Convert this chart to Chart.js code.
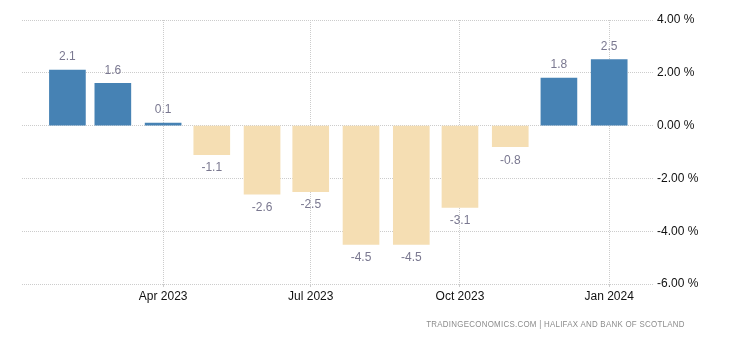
<!DOCTYPE html>
<html>
<head>
<meta charset="utf-8">
<script src="https://cdn.jsdelivr.net/npm/chart.js@4"></script>
<style>
  html, body { margin: 0; padding: 0; background: #fff; }
  #wrap { position: relative; width: 730px; height: 340px; }
  #footer { position: absolute; right: 45px; top: 319px; font: 9px "Liberation Sans", Arial, sans-serif; color: #8c8c8c; letter-spacing: 0.3px; white-space: nowrap; transform: scaleX(0.88); transform-origin: right center; }
</style>
</head>
<body>
<div id="wrap">
  <canvas id="c" width="730" height="340"></canvas>
  <div id="footer">TRADINGECONOMICS.COM | HALIFAX AND BANK OF SCOTLAND</div>
</div>
<script>
const months = ['2023-02','2023-03','2023-04','2023-05','2023-06','2023-07','2023-08','2023-09','2023-10','2023-11','2023-12','2024-01'];
const values = [2.1, 1.6, 0.1, -1.1, -2.6, -2.5, -4.5, -4.5, -3.1, -0.8, 1.8, 2.5];
const xTickMonths = ['2023-04','2023-07','2023-10','2024-01'];
const xTickLabels = ['Apr 2023','Jul 2023','Oct 2023','Jan 2024'];
const yTicks = [4, 2, 0, -2, -4, -6];

function dayNum(s) {
  const p = s.split('-');
  return Date.UTC(+p[0], +p[1] - 1, 1) / 86400000;
}

const points = months.map((m, i) => ({ x: dayNum(m), y: values[i] }));
const colors = values.map(v => v >= 0 ? '#4682B4' : '#F5DEB3');

const labelPlugin = {
  id: 'valueLabels',
  afterDatasetsDraw(chart) {
    const ctx = chart.ctx;
    const meta = chart.getDatasetMeta(0);
    ctx.save();
    ctx.font = '12px "Liberation Sans", Arial, sans-serif';
    ctx.fillStyle = '#7a7890';
    ctx.textAlign = 'center';
    ctx.textBaseline = 'middle';
    meta.data.forEach((bar, i) => {
      const v = values[i];
      const y = v >= 0 ? bar.y - 13 : bar.y + 13.5;
      ctx.fillText(v.toFixed(1), bar.x, y);
    });
    ctx.restore();
  }
};

new Chart(document.getElementById('c'), {
  type: 'bar',
  data: {
    datasets: [{
      data: points,
      backgroundColor: colors,
      barThickness: 36,
      borderWidth: 0
    }]
  },
  options: {
    responsive: false,
    animation: false,
    layout: { padding: { left: 22, top: 20, right: 0, bottom: 0 } },
    plugins: { legend: { display: false }, tooltip: { enabled: false } },
    scales: {
      x: {
        type: 'linear',
        offset: false,
        min: dayNum(months[0]) - 28,
        max: dayNum(months[months.length - 1]) + 27,
        afterBuildTicks(scale) {
          scale.ticks = xTickMonths.map(m => ({ value: dayNum(m) }));
        },
        afterFit(scale) { scale.height = 56; },
        ticks: {
          autoSkip: false,
          maxRotation: 0,
          padding: 2,
          color: '#111',
          font: { family: '"Liberation Sans", Arial, sans-serif', size: 12 },
          callback(value, index) { return xTickLabels[index]; }
        },
        grid: { offset: false, color: '#cccccc', lineWidth: 1, tickLength: 3, drawTicks: true, tickColor: '#cccccc' },
        border: { display: false, dash: [1, 1] }
      },
      y: {
        position: 'right',
        min: -6,
        max: 4,
        afterBuildTicks(scale) {
          scale.ticks = yTicks.map(v => ({ value: v }));
        },
        afterFit(scale) { scale.width = 77; },
        ticks: {
          padding: 4,
          color: '#111',
          font: { family: '"Liberation Sans", Arial, sans-serif', size: 12 },
          callback(value) { return value.toFixed(2) + ' %'; }
        },
        grid: { color: '#cccccc', lineWidth: 1, drawTicks: false },
        border: { display: false, dash: [1, 1] }
      }
    }
  },
  plugins: [labelPlugin]
});
</script>
</body>
</html>
